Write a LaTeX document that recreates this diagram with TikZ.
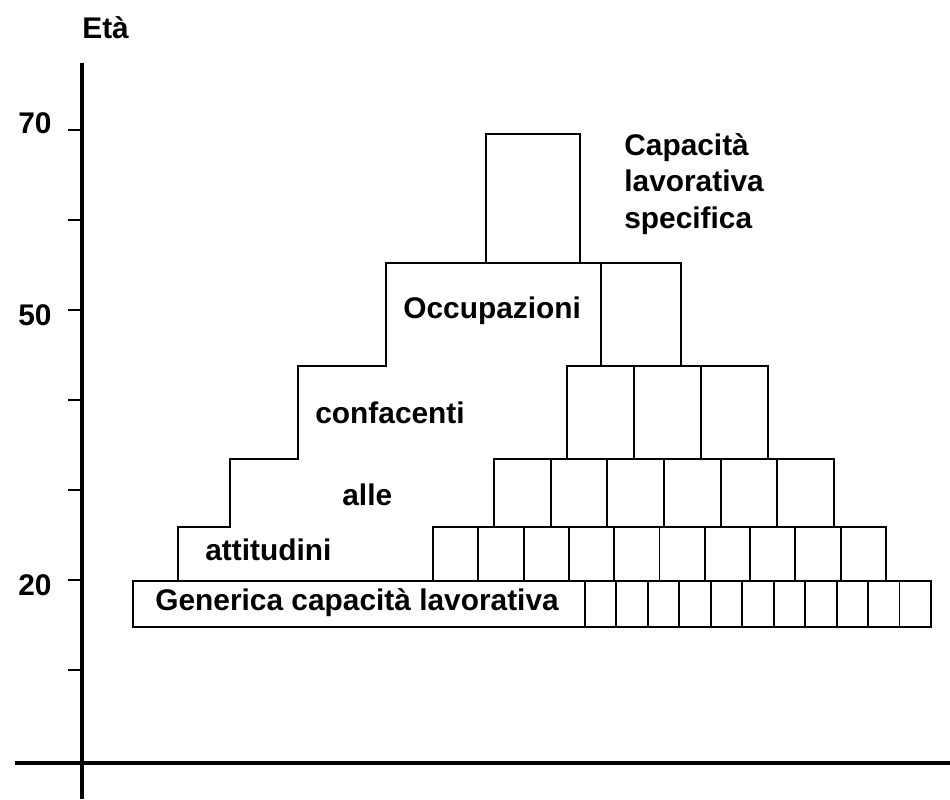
\documentclass[tikz,border=0pt]{standalone}
\usepackage{fontspec}
\setmainfont{Liberation Sans}
\usepackage{tikz}
\usetikzlibrary{positioning}

\begin{document}
\begin{tikzpicture}[
    x=0.02cm, y=-0.02cm,
    lab/.style={font=\bfseries\fontsize{17}{20.7}\selectfont,
                anchor=base west,inner sep=0pt,align=left},
    cell/.style={draw=black,line width=1.1pt},
    axis/.style={draw=black,line width=2pt},
    tick/.style={draw=black,line width=1.1pt}
  ]
  \useasboundingbox (0,0) rectangle (950,799);

  % axes
  \draw[axis] (82,63) -- (82,799);
  \draw[axis] (15,763) -- (950,763);
  \foreach \t in {130,220,...,670}
    \draw[tick] (68,\t) -- (82,\t);
  \node[lab] (eta) at (82,38) {Età};
  \node[lab] (n70) at (18,133) {70};
  \node[lab] (n50) at (18,325) {50};
  \node[lab] (n20) at (18,595) {20};

  % staircase of general capacity
  \draw[cell] (178,581) -- (178,527) -- (230,527) -- (230,459) -- (298,459)
    -- (298,366) -- (386,366) -- (386,263) -- (681,263) -- (681,366) -- (601,366)
    -- (601,263);
  \draw[cell] (486,263) rectangle (580,134);
  \draw[cell] (133,581) rectangle (585,627);

  % rows of cells
  \foreach \xs/\w/\n/\ya/\yb in {585/31.45/11/581/627, 433/45.3/10/527/581,
                                494/56.67/6/459/527, 567/67/3/366/459}
    \foreach \i in {1,...,\n}
      \draw[cell] ({\xs+(\i-1)*\w},\ya) rectangle ({\xs+\i*\w},\yb);

  \node[lab] (gen) at (155,610) {Generica capacità lavorativa};
  \node[lab] (att) at (205,560) {attitudini};
  \node[lab] (alle) at (342,505) {alle};
  \node[lab] (conf) at (315,423) {confacenti};
  \node[lab] (occ) at (403,318) {Occupazioni};
  % base of a multi-line node is its last line
  \node[lab] (spec) at (624,228) {Capacità\\lavorativa\\specifica};
\end{tikzpicture}
\end{document}
